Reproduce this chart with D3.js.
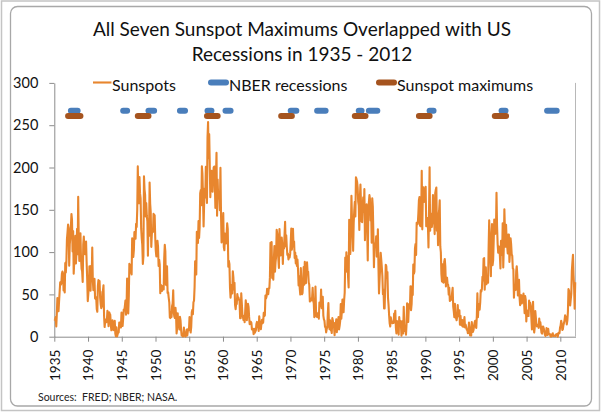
<!DOCTYPE html>
<html><head><meta charset="utf-8">
<script src="https://cdn.jsdelivr.net/npm/d3@7"></script>
<style>
body{margin:0;background:#fff}
svg{display:block}
text{font-family:Lato,"Open Sans",sans-serif}
</style>
</head><body>
<svg id="chart" width="602" height="413"></svg>
<script>
// Monthly sunspot numbers, Jan 1935 .. Mar 2012
const firstYear = 1935;
const sunspots = [
18.9,20.5,23.1,12.2,27.3,45.7,33.9,30.1,42.1,53.2,64.2,61.5,
62.8,74.3,77.1,74.9,54.6,70.0,52.3,87.0,76.0,89.0,115.4,123.4,
132.5,128.5,83.9,109.3,116.7,130.3,145.1,137.7,100.7,124.9,74.4,88.8,
98.4,119.2,86.5,101.0,127.4,97.5,165.3,115.7,89.6,99.1,122.2,92.7,
80.3,77.4,64.6,109.1,118.3,101.0,97.6,105.8,112.6,88.1,68.1,42.1,
50.5,59.4,83.3,60.7,54.4,83.9,67.5,105.5,66.5,55.0,58.4,68.3,
45.6,44.5,46.4,32.8,29.5,59.8,66.9,60.0,65.9,46.3,38.3,33.7,
35.6,52.8,54.2,60.7,25.0,11.4,17.7,20.2,17.2,19.2,30.7,22.5,
12.4,28.9,27.4,26.1,14.1,7.6,13.2,19.4,10.0,7.8,10.2,18.8,
3.7,0.5,11.0,0.3,2.5,5.0,5.0,16.7,14.3,16.9,10.8,28.4,
18.5,12.7,21.5,32.0,30.6,36.2,42.6,25.9,34.9,68.8,46.0,27.4,
47.6,86.2,76.6,75.7,84.9,73.5,116.2,107.2,94.4,102.3,123.8,121.7,
115.7,133.4,129.8,149.8,201.3,163.9,157.9,188.8,169.4,163.6,128.0,116.5,
108.5,86.1,94.8,189.7,174.0,167.8,142.2,157.9,143.3,136.3,95.8,138.0,
119.1,182.3,157.5,147.0,106.2,121.7,125.8,123.8,145.3,131.6,143.5,117.6,
101.6,94.8,109.7,113.4,106.2,83.6,91.0,85.2,51.3,61.4,54.8,54.1,
59.9,59.9,55.9,92.9,108.5,100.6,61.5,61.0,83.1,51.6,52.4,45.8,
40.7,22.7,22.0,29.1,23.4,36.4,39.3,54.9,28.2,23.8,22.1,34.3,
26.5,3.9,10.0,27.8,12.5,21.8,8.6,23.5,19.3,8.2,1.6,2.5,
0.2,0.5,10.9,1.8,0.8,0.2,4.8,8.4,1.5,7.0,9.2,7.6,
23.1,20.8,4.9,11.3,28.9,31.7,26.7,40.7,42.7,58.5,89.2,76.9,
73.6,124.0,118.4,110.7,136.6,116.6,129.1,169.6,173.2,155.3,201.3,192.1,
165.0,130.2,157.4,175.2,164.6,200.7,187.2,158.0,235.8,253.8,210.9,239.4,
202.5,164.9,190.7,196.0,175.3,171.5,191.4,200.2,201.2,181.5,152.3,187.6,
217.4,143.1,185.7,163.3,172.0,168.7,149.6,199.6,145.2,111.4,124.0,125.0,
146.3,106.0,102.2,122.0,119.6,110.2,121.7,134.1,127.2,82.8,89.6,85.6,
57.9,46.1,53.0,61.4,51.0,77.4,70.2,55.8,63.6,37.7,32.6,39.9,
38.7,50.3,45.6,46.4,43.7,42.0,21.8,21.8,51.3,39.5,26.9,23.2,
19.8,24.4,17.1,29.3,43.0,35.9,19.6,33.2,38.8,35.3,23.4,14.9,
15.3,17.7,16.5,8.6,9.5,9.1,3.1,9.3,4.7,6.1,7.4,15.1,
17.5,14.2,11.7,6.8,24.1,15.9,11.9,8.9,16.8,20.1,15.8,17.0,
28.2,24.4,25.3,48.7,45.3,47.7,56.7,51.2,50.2,57.2,57.2,70.4,
110.9,93.6,111.8,69.5,86.5,67.3,91.5,107.2,76.8,88.2,94.3,126.4,
121.8,111.9,92.2,81.2,127.2,110.3,96.1,109.3,117.2,107.7,86.0,109.8,
104.4,120.5,135.8,106.8,120.0,106.0,96.8,98.0,91.3,95.7,93.5,97.9,
111.5,127.8,102.9,109.5,127.5,106.8,112.5,93.0,99.5,86.6,95.2,83.5,
91.3,79.0,60.7,71.8,57.5,49.8,81.0,61.4,50.2,51.7,63.2,82.2,
61.5,88.4,80.1,63.2,80.5,88.0,76.5,76.8,64.0,61.3,41.6,45.3,
43.4,42.9,46.0,57.7,42.4,39.5,23.1,25.6,59.3,30.7,23.9,23.3,
27.6,26.0,21.3,40.3,39.5,36.0,55.8,33.6,40.2,47.1,25.0,20.5,
18.9,11.5,11.5,5.1,9.0,11.4,28.2,39.7,13.9,9.1,19.4,7.8,
8.1,4.3,21.9,18.8,12.4,12.2,1.9,16.4,13.5,20.6,5.2,15.3,
16.4,23.1,8.7,12.9,18.6,38.5,21.4,30.1,44.0,43.8,29.1,43.2,
51.9,93.6,76.5,99.7,82.7,95.1,70.4,58.1,138.2,125.1,97.9,122.7,
166.6,137.5,138.0,101.5,134.4,149.5,159.4,142.2,188.4,186.2,183.3,176.3,
159.6,155.0,126.2,164.1,179.9,157.3,136.3,135.4,155.0,164.7,147.9,174.4,
114.0,141.3,135.5,156.4,127.5,90.0,143.8,158.7,167.3,162.4,137.5,150.1,
111.2,163.6,153.8,122.0,82.2,110.4,106.1,107.6,118.8,94.7,98.1,127.0,
84.3,51.0,66.5,80.7,99.2,91.1,82.2,71.8,50.3,55.8,33.3,33.4,
57.0,85.1,83.5,69.4,76.4,46.1,37.4,25.5,15.7,12.0,22.8,18.7,
16.5,15.9,17.2,16.2,27.5,24.2,30.7,11.1,3.9,18.6,16.2,17.3,
2.5,23.2,15.1,18.5,13.7,1.1,18.1,7.4,3.8,35.4,15.2,6.8,
10.4,2.4,14.7,39.6,33.0,17.4,33.9,38.8,33.3,59.6,31.4,38.4,
59.6,49.3,85.4,74.5,76.9,104.4,109.6,96.7,134.6,132.8,133.4,145.2,
161.3,165.1,131.4,130.6,138.5,196.2,126.9,168.9,176.7,159.4,173.0,165.5,
177.3,130.5,140.3,140.3,132.2,105.4,149.4,200.3,125.2,145.5,131.4,129.7,
136.9,167.5,141.9,140.0,121.3,169.7,173.7,176.3,125.3,144.1,108.2,144.4,
150.0,161.1,106.7,99.8,73.8,65.2,85.7,64.5,63.9,88.7,91.8,82.6,
59.3,70.0,69.8,62.2,61.3,49.8,57.9,42.3,43.6,47.3,43.7,51.8,
57.7,35.8,29.9,23.2,39.0,22.5,22.5,19.5,23.4,37.4,24.4,24.3,
31.1,14.2,24.6,15.6,13.3,19.8,12.0,11.9,16.6,23.1,10.8,14.5,
11.8,8.3,8.8,4.2,4.4,16.6,10.6,1.6,2.2,1.4,17.2,10.7,
5.7,7.6,12.3,16.5,18.8,12.7,10.4,24.6,51.3,23.0,36.1,38.7,
31.9,40.3,54.8,53.4,56.3,70.7,66.6,92.2,92.9,55.5,74.0,81.9,
62.0,66.3,68.8,63.7,106.4,137.7,113.5,93.7,71.5,116.7,133.2,84.6,
90.1,112.9,138.5,125.5,121.6,124.9,170.1,130.5,109.7,99.4,106.8,104.4,
95.6,80.6,113.5,107.7,96.6,134.0,81.8,106.4,150.7,125.5,106.5,132.2,
114.1,107.4,98.4,120.7,120.8,88.3,99.6,116.4,109.6,97.5,95.5,80.8,
79.7,46.0,61.1,60.0,55.2,77.4,83.3,72.7,48.7,65.5,67.3,46.5,
37.3,45.8,49.1,39.3,41.5,43.2,51.1,40.9,27.7,48.0,43.5,17.9,
31.3,29.2,24.5,24.4,42.6,39.6,39.9,36.4,22.1,8.5,18.0,41.2,
15.3,4.9,10.6,30.2,22.3,13.9,12.2,12.9,14.4,10.5,21.4,13.6,
16.9,10.6,4.8,3.7,11.7,12.0,10.0,6.2,2.4,0.9,1.7,10.1,
3.4,2.1,9.3,2.9,2.9,3.1,0.5,0.0,1.2,2.9,4.1,0.8,
1.5,1.4,0.7,0.8,2.9,2.9,3.2,0.0,4.3,4.8,4.1,10.8,
13.2,18.8,15.4,8.0,8.7,13.6,16.1,19.6,25.2,23.5,21.6,14.5,
19.0,29.4,56.2,54.4,41.6,37.0,43.9,50.6,78.0,88.0,96.7,73.0,
58.3,33.1,64.5
];

// NBER recessions (first month after peak .. trough)
const recessionStarts = ["1937-06","1945-03","1948-12","1953-08","1957-09","1960-05","1970-01","1973-12","1980-02","1981-08","1990-08","2001-04","2008-01"];
const recessionEnds   = ["1938-06","1945-10","1949-10","1954-05","1958-04","1961-02","1970-11","1975-03","1980-07","1982-11","1991-03","2001-11","2009-06"];
const recessionLevel = 267;

// Windows around the seven sunspot maximums
const maximumStarts = ["1937-01","1947-05","1957-08","1968-08","1979-07","1989-01","2000-04"];
const maximumEnds   = ["1938-11","1948-12","1959-03","1970-03","1981-02","1990-08","2001-12"];
const maximumLevel = 261;

const yTicks = [0, 50, 100, 150, 200, 250, 300];
const xTickYears = [1935,1940,1945,1950,1955,1960,1965,1970,1975,1980,1985,1990,1995,2000,2005,2010];

const titleLines = ["All Seven Sunspot Maximums Overlapped with US", "Recessions in 1935 - 2012"];
const seriesNames = ["Sunspots", "NBER recessions", "Sunspot maximums"];
const sourceNote = "Sources:  FRED; NBER; NASA.";

// ---------- drawing ----------
const colors = {sun: "#E8862E", rec: "#4A7EBB", max: "#A5541F", axis: "#8C8C8C"};
const svg = d3.select("#chart");
const plot = {left: 54.3, right: 575.5, top: 82.9, bottom: 336.7};

const monthTime = s => { const [yy, m] = s.split("-").map(Number); return yy + (m - 0.5) / 12; };
const x = d3.scaleLinear().domain([firstYear, firstYear + sunspots.length / 12]).range([plot.left, plot.right]);
const y = d3.scaleLinear().domain([0, 300]).range([plot.bottom, plot.top]);

// frames
svg.append("rect").attr("x", 1.5).attr("y", 1).attr("width", 598).attr("height", 409.5)
  .attr("fill", "#fff").attr("stroke", "#c4c4c4").attr("stroke-width", 1.5);
svg.append("rect").attr("x", 10.5).attr("y", 6.5).attr("width", 581).attr("height", 399.5)
  .attr("rx", 7).attr("fill", "#fff").attr("stroke", "#a8a8a8").attr("stroke-width", 1.3);

// title
svg.append("g").selectAll("text").data(titleLines).join("text")
  .attr("x", 302).attr("y", (d, i) => 29 + i * 25).attr("dy", "0.35em")
  .attr("text-anchor", "middle").attr("font-size", 19).attr("fill", "#111").text(d => d);

// y axis
const gy = svg.append("g").attr("transform", `translate(${plot.left},0)`)
  .call(d3.axisLeft(y).tickValues(yTicks).tickSize(5).tickSizeOuter(0).tickPadding(11));
gy.selectAll("text").attr("font-size", 14.5).attr("fill", "#111").style("font-family", "Lato");
gy.selectAll("line,path").attr("stroke", colors.axis);

// x axis
const gx = svg.append("g").attr("transform", `translate(0,${plot.bottom})`)
  .call(d3.axisBottom(x).tickValues(xTickYears).tickFormat(d3.format("d")).tickSize(5).tickSizeOuter(0));
gx.selectAll("text").attr("transform", "rotate(-90)").attr("x", -13).attr("y", 0).attr("dy", "0.36em")
  .attr("text-anchor", "end").attr("font-size", 13.5).attr("fill", "#111").style("font-family", "Lato");
gx.selectAll("line,path").attr("stroke", colors.axis);

// right (secondary) axis line
svg.append("line").attr("x1", plot.right).attr("x2", plot.right).attr("y1", plot.top).attr("y2", plot.bottom)
  .attr("stroke", "#b8b8b8");

// sunspot line
svg.append("path").datum(sunspots)
  .attr("d", d3.line().x((d, i) => x(firstYear + (i + 0.5) / 12)).y(d => y(d)))
  .attr("fill", "none").attr("stroke", colors.sun).attr("stroke-width", 2.1).attr("stroke-linejoin", "round");

// recessions
svg.append("g").selectAll("line").data(recessionStarts).join("line")
  .attr("x1", d => x(monthTime(d))).attr("x2", (d, i) => x(monthTime(recessionEnds[i])))
  .attr("y1", y(recessionLevel)).attr("y2", y(recessionLevel))
  .attr("stroke", colors.rec).attr("stroke-width", 6).attr("stroke-linecap", "round");

// maximums
svg.append("g").selectAll("line").data(maximumStarts).join("line")
  .attr("x1", d => x(monthTime(d))).attr("x2", (d, i) => x(monthTime(maximumEnds[i])))
  .attr("y1", y(maximumLevel)).attr("y2", y(maximumLevel))
  .attr("stroke", colors.max).attr("stroke-width", 6).attr("stroke-linecap", "round");

// legend
const legend = [
  {name: seriesNames[0], color: colors.sun, w: 2.1, cap: "butt", x0: 93, x1: 111.5, tx: 112},
  {name: seriesNames[1], color: colors.rec, w: 6, cap: "round", x0: 211, x1: 226, tx: 229},
  {name: seriesNames[2], color: colors.max, w: 6, cap: "round", x0: 379, x1: 394, tx: 397}
];
const lg = svg.append("g");
legend.forEach(l => {
  lg.append("line").attr("x1", l.x0).attr("x2", l.x1).attr("y1", 82.5).attr("y2", 82.5)
    .attr("stroke", l.color).attr("stroke-width", l.w).attr("stroke-linecap", l.cap);
  lg.append("text").attr("x", l.tx).attr("y", 85.5).attr("dy", "0.35em")
    .attr("font-size", 16).attr("fill", "#111").text(l.name);
});

// source note
svg.append("text").attr("x", 38).attr("y", 397).attr("dy", "0.35em")
  .attr("font-size", 10.5).attr("fill", "#222").style("white-space", "pre").text(sourceNote);
</script>
</body></html>
